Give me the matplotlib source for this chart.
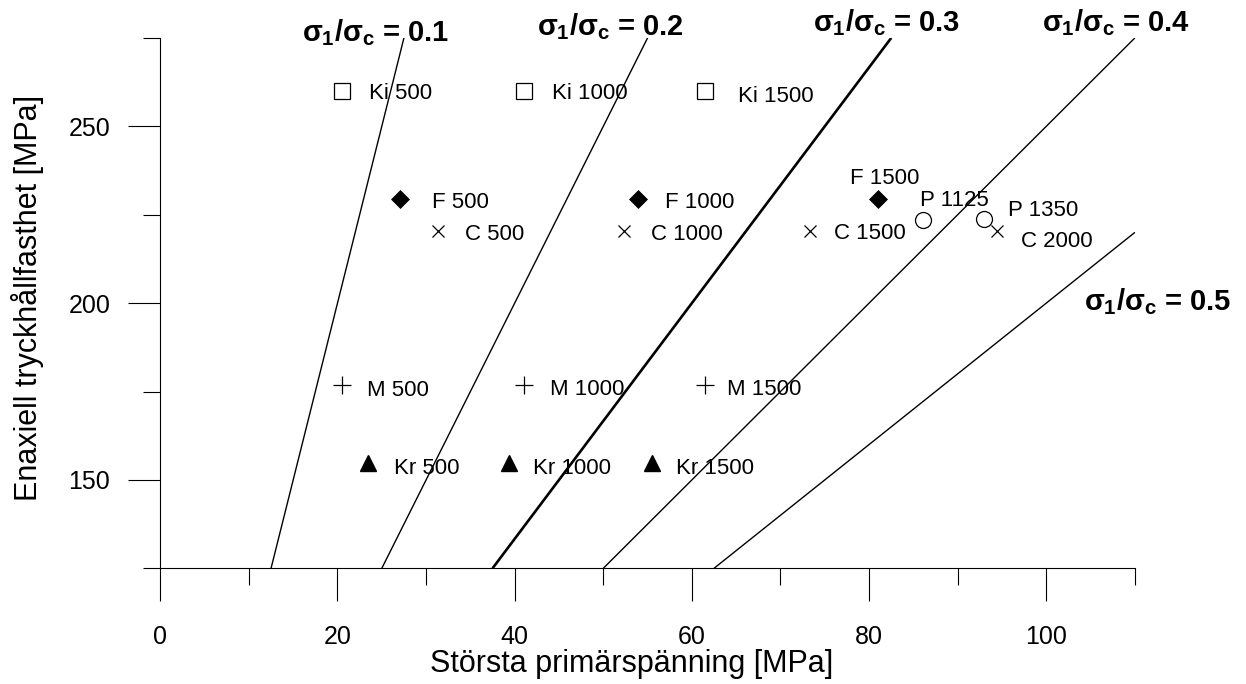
import matplotlib
matplotlib.use("Agg")
import matplotlib.pyplot as plt

plt.rcParams['font.family'] = ['Liberation Sans', 'DejaVu Sans']
plt.rcParams['mathtext.fontset'] = 'custom'
plt.rcParams['mathtext.rm'] = 'Liberation Sans:bold'
plt.rcParams['mathtext.it'] = 'Liberation Sans:bold'
plt.rcParams['mathtext.bf'] = 'Liberation Sans:bold'

# Data (MPa)
ki_x = [20.5, 41.0, 61.5]
ki_y = [260, 260, 260]
ki_lab = ['Ki 500', 'Ki 1000', 'Ki 1500']

f_x = [27.0, 53.9, 81.0]
f_y = [229.5, 229.5, 229.5]
f_lab = ['F 500', 'F 1000', 'F 1500']

c_x = [31.3, 52.3, 73.3, 94.4]
c_y = [220.4, 220.4, 220.4, 220.4]
c_lab = ['C 500', 'C 1000', 'C 1500', 'C 2000']

p_x = [86.1, 93.0]
p_y = [223.5, 223.7]
p_lab = ['P 1125', 'P 1350']

m_x = [20.5, 41.0, 61.5]
m_y = [176.7, 176.7, 176.7]
m_lab = ['M 500', 'M 1000', 'M 1500']

kr_x = [23.4, 39.4, 55.5]
kr_y = [154.7, 154.7, 154.7]
kr_lab = ['Kr 500', 'Kr 1000', 'Kr 1500']

# sigma1/sigmac lines, start and end points
ratios = ['0.1', '0.2', '0.3', '0.4', '0.5']
line_x0 = [12.5, 25.0, 37.5, 50.0, 62.5]
line_y0 = [125, 125, 125, 125, 125]
line_x1 = [27.5, 55.0, 82.5, 110.0, 110.0]
line_y1 = [275, 275, 275, 275, 220]

fig = plt.figure(figsize=(12.46, 6.84), dpi=100)
ax = fig.add_axes([0.12865, 0.16915, 0.7964, 0.77544])

for r, x0, y0, x1, y1 in zip(ratios, line_x0, line_y0, line_x1, line_y1):
    ax.plot([x0, x1], [y0, y1], color='black', lw=1.9 if r == '0.3' else 1.0,
            solid_capstyle='butt')

ax.plot(ki_x, ki_y, 's', ms=12, mfc='white', mec='black', mew=0.9, ls='none')
ax.plot(f_x, f_y, 'D', ms=8.7, mfc='black', mec='black', mew=0.5, ls='none')
ax.plot(c_x, c_y, 'x', ms=8.4, color='black', mew=0.9, ls='none')
ax.plot(p_x, p_y, 'o', ms=11.5, mfc='white', mec='black', mew=0.9, ls='none')
ax.plot(m_x, m_y, '+', ms=12.5, color='black', mew=0.9, ls='none')
ax.plot(kr_x, kr_y, '^', ms=11, color='black', ls='none')

# label offsets in pixels: (right, down) from marker to text start / cap centre
offsets = {
    'Ki 500': (26.6, 0), 'Ki 1000': (28.7, 0), 'Ki 1500': (33, 3.6),
    'F 500': (32, 1), 'F 1000': (27, 1), 'F 1500': (-28.3, -22.3),
    'C 500': (27.3, 0.7), 'C 1000': (27.7, 0.7), 'C 1500': (24, 0), 'C 2000': (24, 7.7),
    'P 1125': (-3.3, -21.7), 'P 1350': (23.3, -11),
    'M 500': (25, 2.3), 'M 1000': (26, 2), 'M 1500': (22.3, 2),
    'Kr 500': (26.6, 2.7), 'Kr 1000': (23.4, 2.7), 'Kr 1500': (23.7, 2.7),
}
fs_ann = 16
half_cap = 0.716 * fs_ann / 72 * 100 / 2
for xs, ys, labs in [(ki_x, ki_y, ki_lab), (f_x, f_y, f_lab), (c_x, c_y, c_lab),
                     (p_x, p_y, p_lab), (m_x, m_y, m_lab), (kr_x, kr_y, kr_lab)]:
    for x, y, lab in zip(xs, ys, labs):
        dx, dy = offsets[lab]
        ax.annotate(lab, (x, y), xytext=(dx * 0.72, -(dy + half_cap) * 0.72),
                    textcoords='offset points', ha='left', va='baseline',
                    fontsize=fs_ann)

label_pos = [(15.96, 274.0), (42.5, 275.8), (73.7, 276.8), (99.5, 276.8), (104.2, 198.0)]
for r, (lx, ly) in zip(ratios, label_pos):
    ax.text(lx, ly, r'$\sigma_1/\sigma_c$ = ' + r, fontsize=21, fontweight='bold',
            ha='left', va='baseline', clip_on=False)

ax.set_xlim(0, 112)
ax.set_ylim(125, 275)
ax.set_xticks([0, 20, 40, 60, 80, 100])
ax.set_xticks([10, 30, 50, 70, 90, 110], minor=True)
ax.set_yticks([150, 200, 250])
ax.set_yticks([125, 175, 225, 275], minor=True)
ax.tick_params(which='both', direction='out', width=0.8, colors='black', labelsize=18)
ax.tick_params(axis='x', which='major', length=24, pad=16.8)
ax.tick_params(axis='y', which='major', length=23, pad=13)
ax.tick_params(which='minor', length=12)

for s in ['top', 'right']:
    ax.spines[s].set_visible(False)
ax.spines['left'].set_bounds(125, 275)
ax.spines['bottom'].set_bounds(0, 110)
ax.spines['left'].set_linewidth(0.8)
ax.spines['bottom'].set_linewidth(0.8)

fig.text(632 / 1246, 1 - 672 / 684, 'Största primärspänning [MPa]', fontsize=22,
         ha='center', va='baseline')
fig.text(28 / 1246, 1 - 297.5 / 684, 'Enaxiell tryckhållfasthet [MPa]', fontsize=22,
         rotation=90, ha='center', va='center')

fig.savefig('out.png', dpi=100)
